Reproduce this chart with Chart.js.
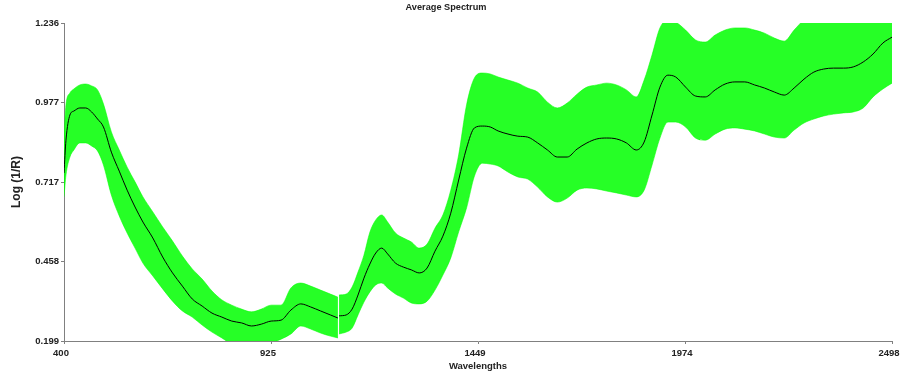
<!DOCTYPE html>
<html>
<head>
<meta charset="utf-8">
<script src="https://cdn.jsdelivr.net/npm/chart.js@4"></script>
<style>
  html, body { margin: 0; padding: 0; background: #fff; }
  #wrap { width: 901px; height: 376px; }
</style>
</head>
<body>
<div id="wrap"><canvas id="spectrum"></canvas></div>
<script>
// Espectro medio + envolvente de todas las muestras

const wavelengths = [
  400, 405, 415, 425, 440, 455, 470, 485, 500, 520, 540, 560, 580, 600, 625, 650, 675, 700, 725, 750,
  775, 800, 825, 850, 875, 900, 925, 950, 975, 1000, 1025, 1050, 1075, 1094, 1095, 1097, 1115, 1130, 1145, 1160,
  1175, 1190, 1205, 1220, 1240, 1260, 1280, 1300, 1320, 1340, 1360, 1380, 1400, 1420, 1440, 1460, 1480, 1500, 1525, 1550,
  1575, 1600, 1625, 1650, 1675, 1700, 1725, 1750, 1775, 1800, 1825, 1850, 1870, 1890, 1910, 1930, 1950, 1975, 2000, 2025,
  2050, 2075, 2100, 2125, 2150, 2175, 2200, 2225, 2250, 2275, 2300, 2325, 2350, 2375, 2400, 2425, 2450, 2475, 2498
];

const meanSpectrum = [
  0.747, 0.854, 0.936, 0.949, 0.959, 0.959, 0.946, 0.923, 0.897, 0.815, 0.753, 0.691, 0.636, 0.587, 0.535, 0.473, 0.421, 0.378, 0.336, 0.313,
  0.290, 0.277, 0.264, 0.258, 0.248, 0.254, 0.264, 0.267, 0.300, 0.320, 0.310, 0.297, 0.284, 0.274, null, 0.281, 0.284, 0.303, 0.349, 0.404,
  0.450, 0.486, 0.502, 0.483, 0.453, 0.440, 0.431, 0.421, 0.437, 0.492, 0.541, 0.616, 0.724, 0.828, 0.894, 0.900, 0.897, 0.884, 0.874, 0.867,
  0.864, 0.845, 0.822, 0.799, 0.799, 0.825, 0.845, 0.858, 0.861, 0.858, 0.845, 0.822, 0.848, 0.936, 1.027, 1.066, 1.060, 1.027, 0.998, 0.995,
  1.018, 1.037, 1.044, 1.044, 1.034, 1.024, 1.011, 1.001, 1.024, 1.053, 1.076, 1.086, 1.089, 1.089, 1.093, 1.109, 1.135, 1.171, 1.190
];

const upperEnvelope = [
  0.871, 0.969, 1.008, 1.021, 1.034, 1.037, 1.031, 1.018, 0.972, 0.881, 0.822, 0.766, 0.718, 0.669, 0.620, 0.571, 0.525, 0.476, 0.434, 0.401,
  0.362, 0.333, 0.316, 0.303, 0.294, 0.303, 0.316, 0.316, 0.372, 0.388, 0.378, 0.365, 0.352, 0.342, null, 0.349, 0.352, 0.375, 0.424, 0.479,
  0.554, 0.594, 0.610, 0.587, 0.551, 0.535, 0.522, 0.502, 0.515, 0.567, 0.610, 0.691, 0.806, 0.969, 1.057, 1.073, 1.070, 1.060, 1.050, 1.040,
  1.024, 1.011, 0.978, 0.959, 0.975, 1.004, 1.027, 1.034, 1.040, 1.034, 1.018, 0.995, 1.050, 1.132, 1.220, 1.246, 1.239, 1.213, 1.181, 1.174,
  1.197, 1.213, 1.220, 1.220, 1.213, 1.203, 1.187, 1.177, 1.213, 1.246, 1.262, 1.268, 1.270, 1.272, 1.276, 1.290, 1.310, 1.340, 1.360
];

const lowerEnvelope = [
  0.669, 0.740, 0.799, 0.822, 0.845, 0.845, 0.835, 0.819, 0.773, 0.675, 0.607, 0.551, 0.502, 0.453, 0.411, 0.369, 0.329, 0.297, 0.277, 0.251,
  0.228, 0.209, 0.189, 0.185, 0.183, 0.185, 0.193, 0.205, 0.222, 0.248, 0.238, 0.225, 0.215, 0.209, null, 0.222, 0.228, 0.241, 0.284, 0.326,
  0.359, 0.382, 0.388, 0.372, 0.352, 0.339, 0.323, 0.320, 0.329, 0.365, 0.414, 0.470, 0.555, 0.633, 0.737, 0.779, 0.776, 0.770, 0.750, 0.734,
  0.727, 0.701, 0.669, 0.652, 0.665, 0.691, 0.698, 0.695, 0.688, 0.682, 0.675, 0.669, 0.691, 0.773, 0.861, 0.913, 0.913, 0.897, 0.861, 0.854,
  0.874, 0.890, 0.894, 0.890, 0.884, 0.874, 0.864, 0.861, 0.887, 0.910, 0.923, 0.933, 0.939, 0.943, 0.946, 0.959, 0.995, 1.021, 1.040
];

const xTicks = [400, 924.5, 1449, 1973.5, 2498];
const xTickLabels = ['400', '925', '1449', '1974', '2498'];
const yTicks = [0.199, 0.45825, 0.7175, 0.97675, 1.236];
const yTickLabels = ['0.199', '0.458', '0.717', '0.977', '1.236'];

const toPoints = arr => arr.map((v, i) => ({ x: wavelengths[i], y: v }));

const fuente = 'Liberation Sans, Arial, sans-serif';
const gris = '#808080';
const texto = '#222';

const dataEspectro = {
  datasets: [
    {
      label: 'Average',
      data: toPoints(meanSpectrum),
      borderColor: '#000000',
      borderWidth: 1,
      pointRadius: 0,
      cubicInterpolationMode: 'monotone',
      fill: false
    },
    {
      label: 'Max',
      data: toPoints(upperEnvelope),
      borderColor: 'rgba(0,255,0,0.55)',
      borderWidth: 1,
      pointRadius: 0,
      cubicInterpolationMode: 'monotone',
      fill: '+1',
      backgroundColor: 'rgba(0,255,0,0.85)'
    },
    {
      label: 'Min',
      data: toPoints(lowerEnvelope),
      borderColor: 'rgba(0,255,0,0.55)',
      borderWidth: 1,
      pointRadius: 0,
      cubicInterpolationMode: 'monotone',
      fill: false
    }
  ]
};

const optionsEspectro = {
  responsive: true,
  maintainAspectRatio: false,
  animation: false,
  layout: { padding: { left: 0, right: 9, top: 0, bottom: 0 } },
  scales: {
    x: {
      type: 'linear',
      min: 400,
      max: 2498,
      afterBuildTicks: s => { s.ticks = xTicks.map(v => ({ value: v })); },
      afterFit: s => { s.height = 35; s.paddingLeft = 0; s.paddingRight = 0; },
      ticks: {
        callback: (v, i) => xTickLabels[i],
        font: { family: fuente, size: 9.5, weight: 'bold' },
        color: texto,
        padding: 4,
        labelOffset: -3,
        maxRotation: 0,
        autoSkip: false
      },
      grid: { display: true, drawOnChartArea: false, tickLength: 3, color: gris },
      border: { color: gris, width: 1 },
      title: {
        display: true,
        text: 'Wavelengths',
        font: { family: fuente, size: 9.5, weight: 'bold' },
        color: texto,
        padding: { top: 0, bottom: 4 }
      }
    },
    y: {
      type: 'linear',
      min: 0.199,
      max: 1.236,
      afterBuildTicks: s => { s.ticks = yTicks.map(v => ({ value: v })); },
      afterFit: s => { s.width = 64; s.paddingTop = 0; s.paddingBottom = 0; },
      ticks: {
        callback: (v, i) => yTickLabels[i],
        font: { family: fuente, size: 9.5, weight: 'bold' },
        color: texto,
        padding: 2,
        autoSkip: false
      },
      grid: { display: true, drawOnChartArea: false, tickLength: 3, color: gris },
      border: { color: gris, width: 1 },
      title: {
        display: true,
        text: 'Log (1/R)',
        font: { family: fuente, size: 12, weight: 'bold' },
        color: texto,
        padding: { top: 9, bottom: 0 }
      }
    }
  },
  plugins: {
    legend: { display: false },
    tooltip: { enabled: false },
    title: {
      display: true,
      text: 'Average Spectrum',
      font: { family: fuente, size: 9.2, weight: 'bold' },
      color: texto,
      padding: { top: 2, bottom: 10 }
    }
  }
};

const ctxEspectro = document.getElementById('spectrum').getContext('2d');
const chartEspectro = new Chart(ctxEspectro, {
  type: 'line',
  data: dataEspectro,
  options: optionsEspectro
});
</script>
</body>
</html>
